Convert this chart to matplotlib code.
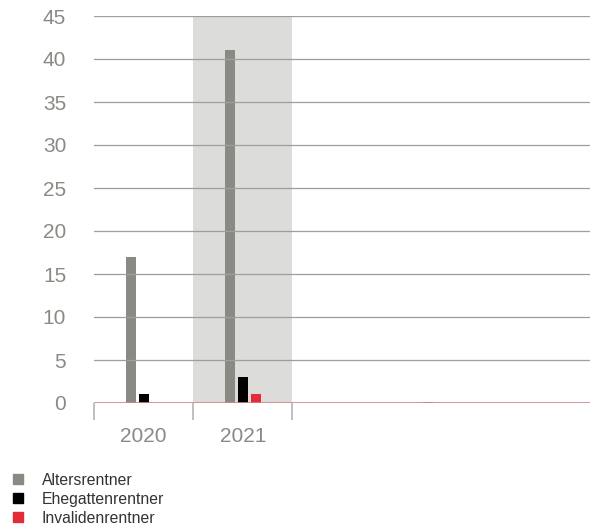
import matplotlib.pyplot as plt
from matplotlib.patches import Patch
import numpy as np

plt.rcParams['font.family'] = ['Liberation Sans', 'DejaVu Sans']

# Anzahl Neurentner je Jahr
years = ['2020', '2021', '', '', '']
series = ['Altersrentner', 'Ehegattenrentner', 'Invalidenrentner']
alters = [17, 41, 0, 0.08, 0]
ehegatten = [1, 3, 0, 0, 0]
invaliden = [0, 1, 0, 0, 0]
colors = ['#8a8a85', '#000000', '#e42b39']
y_ticks = [0, 5, 10, 15, 20, 25, 30, 35, 40, 45]
highlight = 1  # current year

fig = plt.figure(figsize=(5.92, 5.28), dpi=100)
ax = fig.add_axes([94 / 592, 1 - 403 / 528, 496 / 592, 387 / 528])

x = np.arange(len(years))
w = 0.1
offsets = [-0.13, 0.0, 0.13]
for vals, off, c in zip([alters, ehegatten, invaliden], offsets, colors):
    ax.bar(x + off, vals, width=w, color=c, zorder=2)

ax.axvspan(highlight - 0.5, highlight + 0.5, color='#dcdcdb', lw=0, zorder=0)

for t in y_ticks[1:]:
    ax.axhline(t, color='#a29c9a', lw=0.9, zorder=3)
ax.axhline(0, color='#d48288', lw=1.2, zorder=4)

ax.set_xlim(-0.5, len(years) - 0.5)
ax.set_ylim(0, 45)
ax.set_yticks(y_ticks)
ax.set_xticks(x[:2])
ax.set_xticklabels(years[:2])
ax.set_xticks([-0.5, 0.5, 1.5], minor=True)
ax.tick_params(axis='y', length=0, pad=20, labelsize=15, labelcolor='#8a8a85')
ax.tick_params(axis='x', which='major', length=0, pad=17, labelsize=15,
               labelcolor='#8a8a85')
ax.tick_params(axis='x', which='minor', length=12.5, width=1.2, color='#b4b4b4')
for s in ax.spines.values():
    s.set_visible(False)

handles = [Patch(color=c, label=s) for c, s in zip(colors, series)]
fig.legend(handles=handles, loc='upper left', bbox_to_anchor=(0.004, 0.125),
           frameon=False, fontsize=11.3, handlelength=0.6, handleheight=0.6,
           handletextpad=1.2, labelspacing=0.25, borderaxespad=0.3,
           labelcolor='#333333')

fig.savefig('out.png', dpi=100)
